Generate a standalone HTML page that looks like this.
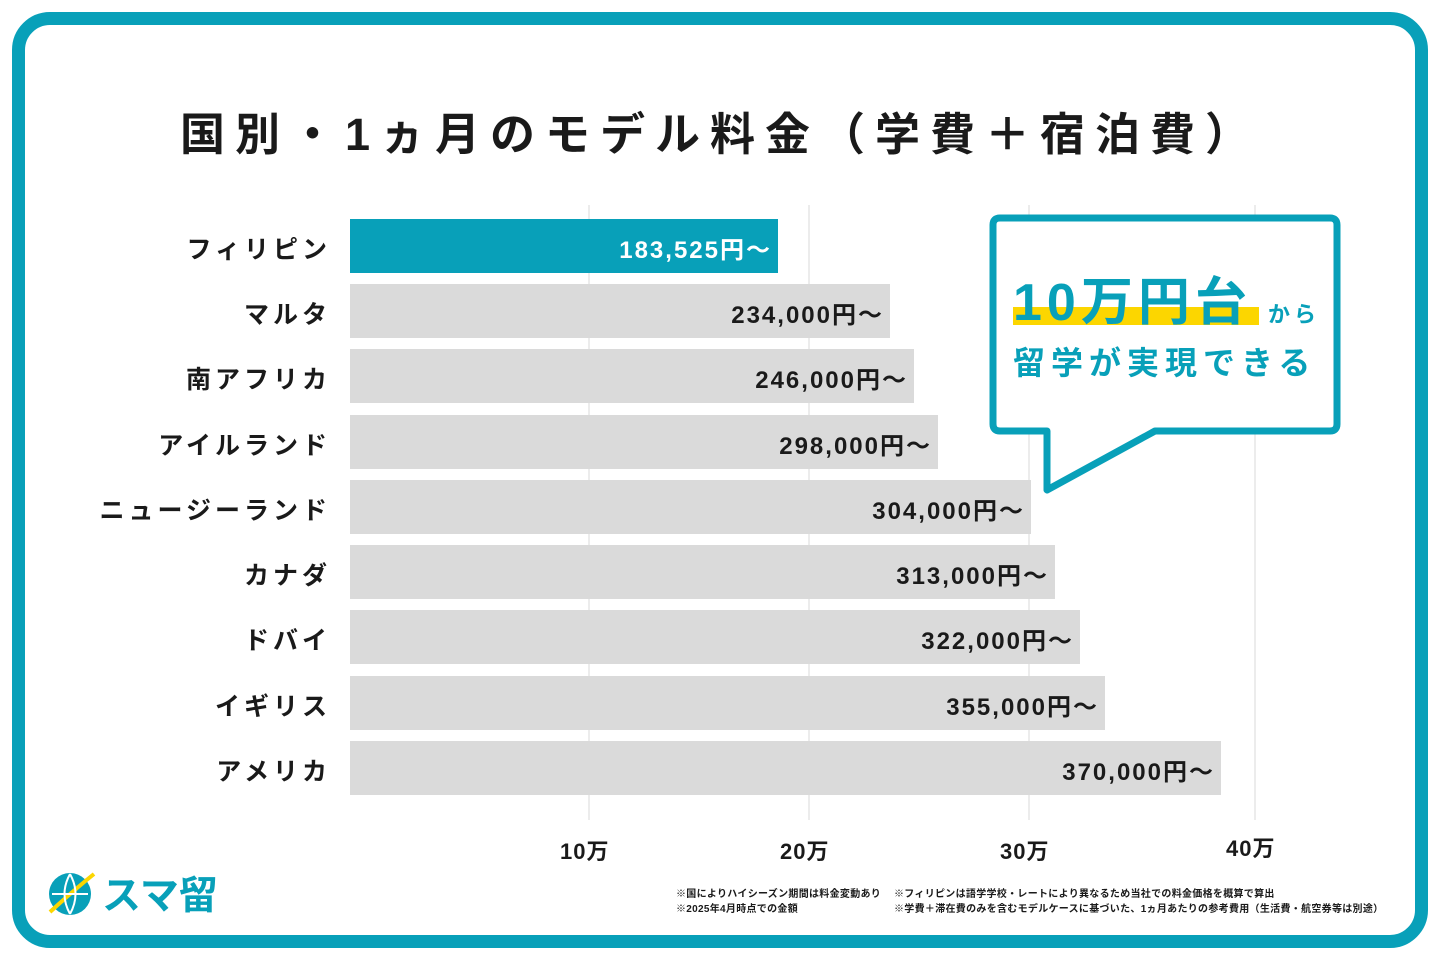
<!DOCTYPE html>
<html><head><meta charset="utf-8"><style>
*{margin:0;padding:0;box-sizing:border-box}
body{width:1440px;height:960px;background:#fff;position:relative;overflow:hidden;font-family:"Liberation Sans","Noto Sans CJK JP",sans-serif;color:#1a1a1a}
.frame{position:absolute;left:12px;top:12px;width:1416px;height:936px;border:13px solid #08a0b9;border-radius:38px}
.title{position:absolute;left:0;width:1440px;top:98px;text-align:center;font-size:45px;font-weight:700;letter-spacing:10px;padding-left:0}
.grid{position:absolute;top:205px;height:615px;width:2px;background:#ececec}
.bar{position:absolute;left:350px;height:54px;background:#dadada}
.bar span{position:absolute;right:6px;top:11px;font-size:24px;font-weight:700;letter-spacing:2px}
.lab{position:absolute;right:1109px;font-size:25px;font-weight:700;letter-spacing:4px;text-align:right;white-space:nowrap}
.tick{position:absolute;font-size:22px;font-weight:700;top:834px;letter-spacing:1px}
.note{position:absolute;font-size:10px;font-weight:700;line-height:15px;white-space:nowrap;letter-spacing:0.3px}
</style></head><body>
<div class="frame"></div>
<div class="title">国別・1ヵ月のモデル料金（学費＋宿泊費）</div>
<div class="grid" style="left:588px"></div>
<div class="grid" style="left:808px"></div>
<div class="grid" style="left:1028px"></div>
<div class="grid" style="left:1254px"></div>

<div class="bar" style="top:219px;width:428px;background:#08a0b9"><span style="color:#fff">183,525円～</span></div>
<div class="bar" style="top:284px;width:540px"><span>234,000円～</span></div>
<div class="bar" style="top:349px;width:564px"><span>246,000円～</span></div>
<div class="bar" style="top:415px;width:588px"><span>298,000円～</span></div>
<div class="bar" style="top:480px;width:681px"><span>304,000円～</span></div>
<div class="bar" style="top:545px;width:705px"><span>313,000円～</span></div>
<div class="bar" style="top:610px;width:730px"><span>322,000円～</span></div>
<div class="bar" style="top:676px;width:755px"><span>355,000円～</span></div>
<div class="bar" style="top:741px;width:871px"><span>370,000円～</span></div>

<div class="lab" style="top:230px">フィリピン</div>
<div class="lab" style="top:295px">マルタ</div>
<div class="lab" style="top:360px">南アフリカ</div>
<div class="lab" style="top:426px">アイルランド</div>
<div class="lab" style="top:491px">ニュージーランド</div>
<div class="lab" style="top:556px">カナダ</div>
<div class="lab" style="top:621px">ドバイ</div>
<div class="lab" style="top:687px">イギリス</div>
<div class="lab" style="top:752px">アメリカ</div>

<div class="tick" style="left:560px">10万</div>
<div class="tick" style="left:780px">20万</div>
<div class="tick" style="left:1000px">30万</div>
<div class="tick" style="left:1226px;top:831px">40万</div>

<svg style="position:absolute;left:985px;top:210px" width="365" height="290">
<path d="M15 8 H345 Q352 8 352 15 V214 Q352 221 345 221 H170 L62 280 V221 H15 Q8 221 8 214 V15 Q8 8 15 8 Z" fill="#fff" stroke="#08a0b9" stroke-width="7" stroke-linejoin="round"/>
<rect x="28" y="97" width="246" height="18" fill="#fcd600"/>
<text x="28" y="110" font-family="Liberation Sans,Noto Sans CJK JP,sans-serif" font-weight="700" font-size="52" fill="#08a0b9" letter-spacing="5">10万円台</text>
<text x="283" y="112" font-family="Liberation Sans,Noto Sans CJK JP,sans-serif" font-weight="700" font-size="22" fill="#08a0b9" letter-spacing="4">から</text>
<text x="28" y="164" font-family="Liberation Sans,Noto Sans CJK JP,sans-serif" font-weight="700" font-size="32" fill="#08a0b9" letter-spacing="6">留学が実現できる</text>
</svg>

<svg style="position:absolute;left:44px;top:868px" width="190" height="52">
<circle cx="26" cy="26" r="21" fill="#08a0b9"/>
<path d="M6 44 Q30 22 50 6" stroke="#fcd600" stroke-width="4" fill="none"/>
<path d="M8 26 H44 M26 6 Q15 26 26 46 M26 6 Q37 26 26 46" stroke="#fff" stroke-width="2" fill="none"/>
<text x="58" y="41" font-family="Liberation Sans,Noto Sans CJK JP,sans-serif" font-weight="700" font-size="39" fill="#08a0b9">スマ留</text>
</svg>

<div class="note" style="left:676px;top:887px">※国によりハイシーズン期間は料金変動あり<br>※2025年4月時点での金額</div>
<div class="note" style="left:894px;top:887px">※フィリピンは語学学校・レートにより異なるため当社での料金価格を概算で算出<br>※学費＋滞在費のみを含むモデルケースに基づいた、1ヵ月あたりの参考費用（生活費・航空券等は別途）</div>
</body></html>
